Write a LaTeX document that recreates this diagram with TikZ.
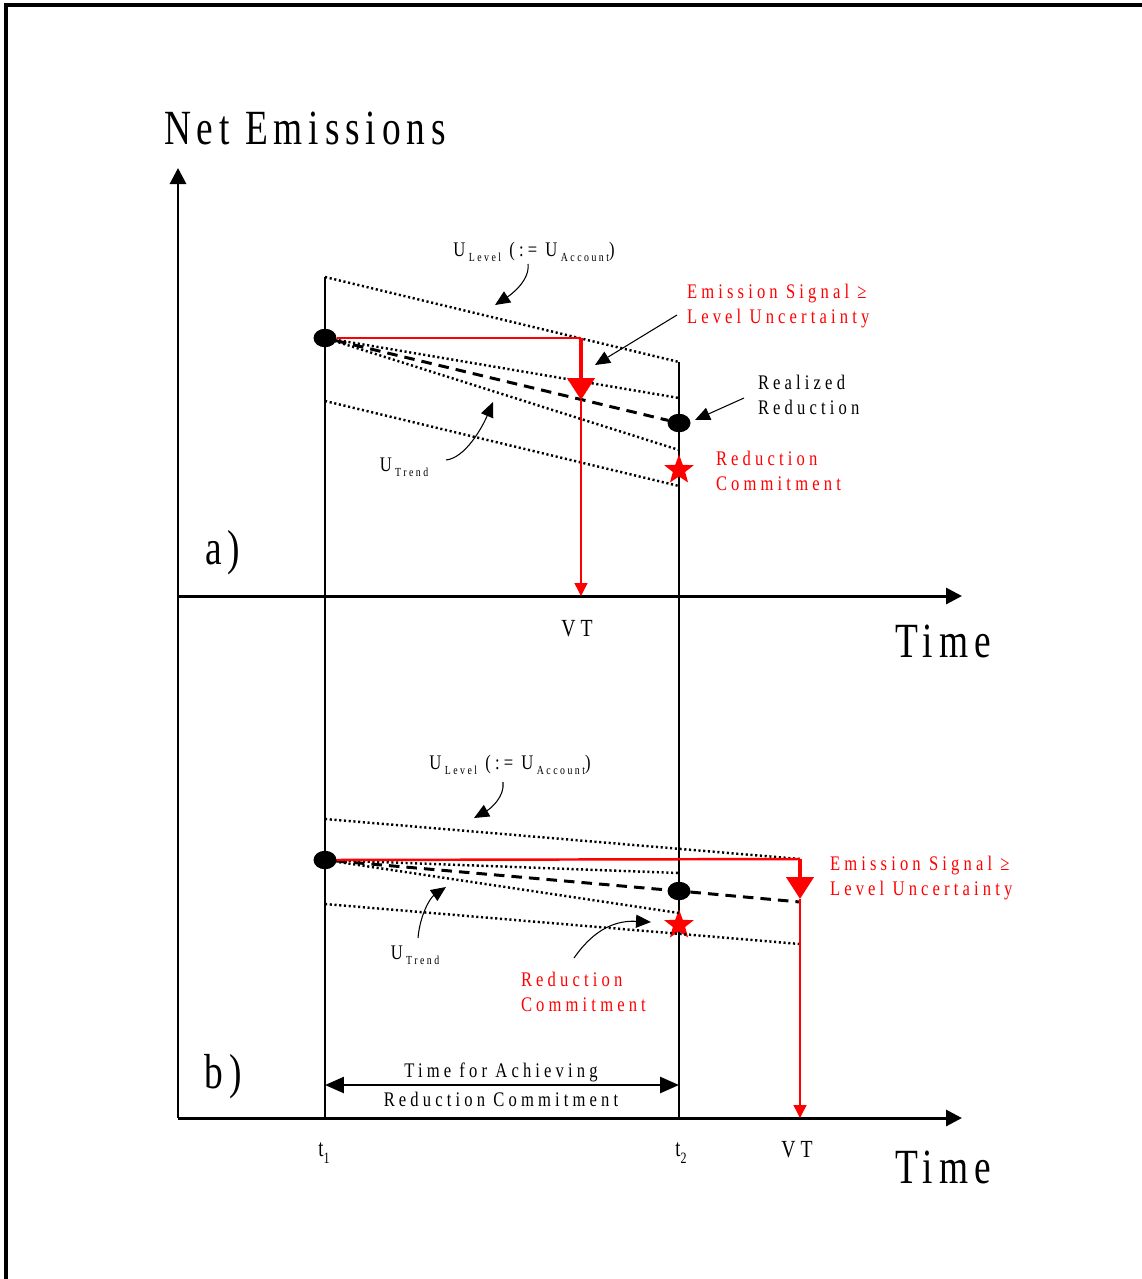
\documentclass[tikz,border=0pt]{standalone}
\usepackage{fontspec}
\setmainfont{Liberation Serif}[FakeStretch=0.76, LetterSpace=12]
\newfontfamily\lblfont{Liberation Serif}[FakeStretch=0.8, LetterSpace=20]
\usetikzlibrary{arrows.meta, shapes.geometric}
\newcommand{\lowtext}[1]{\,\raisebox{-0.5ex}{\fontsize{7}{8}\selectfont #1}}
\newcommand{\lowtick}[1]{\raisebox{-0.6ex}{\fontsize{9}{10}\selectfont #1}}

\begin{document}
\begin{tikzpicture}[
  x=0.02cm, y=-0.02cm,
  every node/.style={inner sep=0pt, outer sep=0pt},
  frame/.style={line width=2pt},
  axis/.style={line width=1.7pt, -{Triangle[length=0.32cm, width=0.32cm]}},
  guide/.style={line width=0.6pt},
  band/.style={line width=1.4pt, dash pattern=on 1.2pt off 1.5pt},
  real/.style={line width=1.7pt, dash pattern=on 6pt off 4pt},
  sigline/.style={red, line width=1.4pt},
  sigarrow/.style={red, line width=2.4pt, -{Triangle[length=0.44cm, width=0.54cm]}},
  vtline/.style={red, line width=0.8pt, -{Triangle[length=0.26cm, width=0.26cm]}},
  callout/.style={line width=0.6pt, -{Triangle[length=0.3cm, width=0.26cm]}},
  span/.style={line width=1.5pt, {Triangle[length=0.38cm, width=0.32cm]}-{Triangle[length=0.38cm, width=0.32cm]}},
  dot/.style={ellipse, fill=black, minimum width=0.46cm, minimum height=0.37cm},
  commit/.style={star, star points=5, star point ratio=2.4, fill=red, minimum size=0.62cm},
  lbl/.style={font=\lblfont\fontsize{11.8}{14.2}\selectfont},
  redlbl/.style={lbl, text=red, align=left},
  vtlbl/.style={font=\lblfont\fontsize{14}{16}\selectfont},
  ticklbl/.style={font=\fontsize{14}{16}\selectfont},
  big/.style={font=\fontsize{28}{32}\selectfont}
]
\useasboundingbox (0,0) rectangle (1142,1279);

%--- Frame and axes ---
\draw[frame] (6,1279) -- (6,5) -- (1142,5);

\coordinate (O)    at (178,1118);
\coordinate (ytop) at (178,168);
\coordinate (oa)   at (178,596);
\coordinate (xa)   at (962,596);
\coordinate (xb)   at (962,1118);
\draw[axis] (O) -- (ytop);
\draw[axis] (oa) -- (xa);
\draw[axis] (O) -- (xb);

\node[big] (yname) at (305,128) {Net Emissions};
\node[big] (timea) at (943,641) {Time};
\node[big] (timeb) at (943,1167) {Time};

% t1 and t2 guides
\coordinate (t1top) at (325,277);
\coordinate (t1bot) at (325,1118);
\coordinate (t2top) at (679,362);
\coordinate (t2bot) at (679,1118);
\draw[guide] (t1top) -- (t1bot);
\draw[guide] (t2top) -- (t2bot);
\node[ticklbl] (t1l) at (324,1153) {t\lowtick{1}};
\node[ticklbl] (t2l) at (681,1153) {t\lowtick{2}};

%--- Panel a) ---
\node[dot]    (sa) at (325,338) {};
\node[dot]    (ra) at (679,423) {};
\node[commit] (ca) at (679,470) {};

\coordinate (bla) at (325,401);
\coordinate (bra) at (679,486);
\coordinate (tua) at (679,398);
\coordinate (tla) at (679,450);
\draw[band] (t1top) -- (t2top);
\draw[band] (bla) -- (bra);
\draw[band] (sa.center) -- (tua);
\draw[band] (sa.center) -- (tla);
\draw[real] (sa) -- (ra);

% signal exceeds level band before t2
\coordinate (vta)  at (581,338);
\coordinate (vtha) at (581,400);
\coordinate (vtxa) at (581,596);
\draw[sigline] (sa) -- (vta);
\draw[sigarrow] (vta) -- (vtha);
\draw[vtline] (vtha) -- (vtxa);

\node[lbl] (ula) at (534,252) {U\lowtext{Level} (:= U\lowtext{Account})};
\node[redlbl, anchor=west] (esa) at (687,306) {Emission Signal ≥\\Level Uncertainty};
\node[lbl, anchor=west, align=left] (rra) at (758,395) {Realized\\Reduction};
\node[redlbl, anchor=west] (rca) at (716,471) {Reduction\\Commitment};
\node[lbl] (uta) at (404,467) {U\lowtext{Trend}};
\node[big] (pa) at (223,553) {a)};
\node[vtlbl] (vtla) at (577,629) {VT};

\coordinate (ulas) at (528,264);
\coordinate (ulat) at (495,305);
\draw[callout] (ulas) .. controls (530,280) and (512,294) .. (ulat);
\coordinate (esas) at (677,315);
\coordinate (esat) at (595,365);
\draw[callout] (esas) -- (esat);
\coordinate (rras) at (744,398);
\coordinate (rrat) at (695,420);
\draw[callout] (rras) -- (rrat);
\coordinate (utas) at (446,460);
\coordinate (utat) at (493,402);
\draw[callout] (utas) .. controls (465,458) and (482,428) .. (utat);

%--- Panel b) ---
\node[dot]    (sb) at (325,860) {};
\node[dot]    (rb) at (679,891) {};
\node[commit] (cb) at (679,925) {};

\coordinate (bub)   at (325,819);
\coordinate (vtb)   at (800,859);
\coordinate (blb)   at (325,904);
\coordinate (brb)   at (800,944);
\coordinate (tub)   at (679,873);
\coordinate (tlb)   at (679,913);
\coordinate (rendb) at (800,902);
\draw[band] (bub) -- (vtb);
\draw[band] (blb) -- (brb);
\draw[band] (sb.center) -- (tub);
\draw[band] (sb.center) -- (tlb);
\draw[real] (sb) -- (rb);
\draw[real] (rb) -- (rendb);

% signal exceeds level band only after t2
\coordinate (vthb) at (800,899);
\coordinate (vtxb) at (800,1118);
\draw[sigline] (sb) -- (vtb);
\draw[sigarrow] (vtb) -- (vthb);
\draw[vtline] (vthb) -- (vtxb);

\node[lbl] (ulb) at (510,765) {U\lowtext{Level} (:= U\lowtext{Account})};
\node[redlbl, anchor=west] (esb) at (830,878) {Emission Signal ≥\\Level Uncertainty};
\node[redlbl, anchor=west] (rcb) at (521,992) {Reduction\\Commitment};
\node[lbl] (utb) at (415,955) {U\lowtext{Trend}};
\node[big] (pb) at (223,1077) {b)};
\node[vtlbl] (vtlb) at (797,1150) {VT};

\coordinate (ulbs) at (503,782);
\coordinate (ulbt) at (474,818);
\draw[callout] (ulbs) .. controls (505,797) and (490,809) .. (ulbt);
\coordinate (utbs) at (418,938);
\coordinate (utbt) at (446,887);
\draw[callout] (utbs) .. controls (420,915) and (430,898) .. (utbt);
\coordinate (rcbs) at (574,958);
\coordinate (rcbt) at (651,922);
\draw[callout] (rcbs) .. controls (590,935) and (610,920) .. (rcbt);

% time span t1 -> t2
\coordinate (da) at (325,1085);
\coordinate (db) at (679,1085);
\draw[span] (da) -- (db);
\node[lbl] (spanup) at (501,1072) {Time for Achieving};
\node[lbl] (spandn) at (501,1099) {Reduction Commitment};

\end{tikzpicture}
\end{document}
